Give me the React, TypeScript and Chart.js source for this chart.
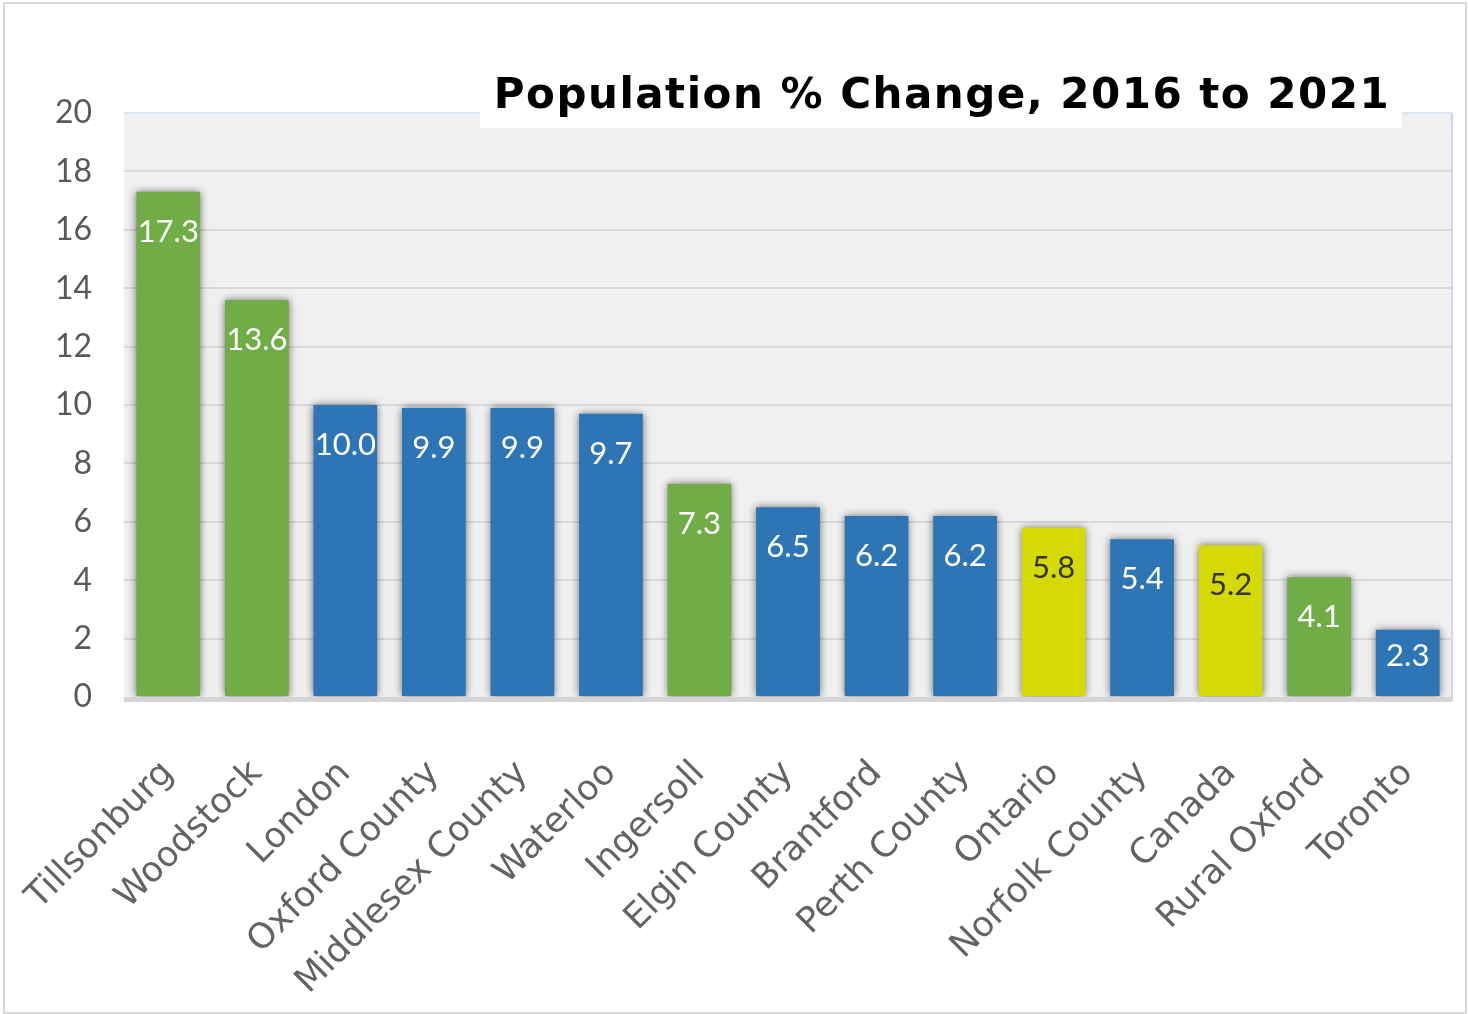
import React, { useEffect, useRef } from "react";
import { Chart, registerables } from "chart.js";

Chart.register(...registerables);

const chartTitle = "Population % Change, 2016 to 2021";
const categories = [
  "Tillsonburg", "Woodstock", "London", "Oxford County", "Middlesex County",
  "Waterloo", "Ingersoll", "Elgin County", "Brantford", "Perth County",
  "Ontario", "Norfolk County", "Canada", "Rural Oxford", "Toronto",
];
const values = [17.3, 13.6, 10.0, 9.9, 9.9, 9.7, 7.3, 6.5, 6.2, 6.2, 5.8, 5.4, 5.2, 4.1, 2.3];
const groups = [
  "oxford", "oxford", "other", "other", "other",
  "other", "oxford", "other", "other", "other",
  "benchmark", "other", "benchmark", "oxford", "other",
];
const yMin = 0;
const yMax = 20;
const yStep = 2;

const groupColor: Record<string, string> = {
  oxford: "#70AD47",
  other: "#2E75B6",
  benchmark: "#D6DA04",
};
const groupLabelColor: Record<string, string> = {
  oxford: "#FFFFFF",
  other: "#FFFFFF",
  benchmark: "#333333",
};

const decorPlugin = {
  id: "decor",
  beforeDraw(chart: any) {
    const { ctx, chartArea } = chart;
    ctx.save();
    ctx.fillStyle = "#FFFFFF";
    ctx.fillRect(0, 0, chart.width, chart.height);
    ctx.strokeStyle = "#D9D9D9";
    ctx.lineWidth = 2;
    ctx.strokeRect(4, 3, chart.width - 6, chart.height - 4);
    ctx.fillStyle = "#F0F0F0";
    ctx.fillRect(chartArea.left, chartArea.top, chartArea.right - chartArea.left, chartArea.bottom - chartArea.top);
    ctx.restore();
  },
  beforeDatasetsDraw(chart: any) {
    const ctx = chart.ctx;
    ctx.save();
    ctx.shadowColor = "rgba(0,0,0,0.55)";
    ctx.shadowBlur = 8;
    ctx.shadowOffsetX = 0;
    ctx.shadowOffsetY = 0;
  },
  afterDatasetsDraw(chart: any) {
    const { ctx, chartArea } = chart;
    ctx.restore();
    ctx.save();
    ctx.fillStyle = "#D4D4D4";
    ctx.fillRect(chartArea.left, chartArea.bottom, chartArea.right - chartArea.left, 5);
    ctx.strokeStyle = "#C9DAEE";
    ctx.lineWidth = 2;
    ctx.beginPath();
    ctx.moveTo(chartArea.right, chartArea.top);
    ctx.lineTo(chartArea.right, chartArea.bottom + 5);
    ctx.stroke();
    ctx.restore();
    const meta = chart.getDatasetMeta(0);
    ctx.save();
    ctx.font = "31px Lato, 'Liberation Sans', sans-serif";
    ctx.textAlign = "center";
    ctx.textBaseline = "middle";
    meta.data.forEach((bar: any, i: number) => {
      const y = Math.min(bar.y + 40, bar.base - 40);
      ctx.fillStyle = groupLabelColor[groups[i]];
      ctx.fillText(values[i].toFixed(1), bar.x, y);
    });
    ctx.restore();
  },
  afterDraw(chart: any) {
    const { ctx, chartArea } = chart;
    ctx.save();
    ctx.fillStyle = "#FFFFFF";
    ctx.fillRect(480, 60, 922, chartArea.top + 15 - 60);
    ctx.fillStyle = "#000000";
    ctx.font = "bold 42px 'DejaVu Sans', sans-serif";
    (ctx as any).letterSpacing = "1.5px";
    ctx.textAlign = "center";
    ctx.textBaseline = "alphabetic";
    ctx.fillText(chartTitle, 942, 108);
    ctx.restore();
  },
};

export default function App() {
  const canvasRef = useRef<HTMLCanvasElement | null>(null);

  useEffect(() => {
    if (!canvasRef.current) return;
    const chart = new Chart(canvasRef.current, {
      type: "bar",
      data: {
        labels: categories,
        datasets: [
          {
            data: values,
            backgroundColor: groups.map((g) => groupColor[g]),
            borderWidth: 0,
            barPercentage: 0.72,
            categoryPercentage: 1,
          },
        ],
      },
      options: {
        animation: false,
        responsive: false,
        maintainAspectRatio: false,
        devicePixelRatio: 1,
        layout: { padding: { top: 113, right: 16, bottom: 0, left: 0 } },
        plugins: {
          legend: { display: false },
          title: { display: false },
          tooltip: { enabled: false },
        },
        scales: {
          x: {
            grid: { display: false },
            border: { display: false },
            ticks: {
              maxRotation: 45,
              minRotation: 45,
              autoSkip: false,
              padding: 48,
              color: "#636363",
              font: { family: "'DejaVu Sans', sans-serif", size: 35 },
            },
            afterFit(scale: any) {
              scale.height = 317;
              scale.paddingLeft = 0;
              scale.paddingRight = 0;
            },
          },
          y: {
            min: yMin,
            max: yMax,
            border: { display: false },
            grid: {
              drawTicks: false,
              lineWidth: 2,
              color: (c: any) => (c.tick && c.tick.value === yMax ? "#DCE6F2" : c.tick && c.tick.value === yMin ? "rgba(0,0,0,0)" : "#D9D9D9"),
            },
            ticks: {
              stepSize: yStep,
              padding: 32,
              color: "#595959",
              font: { family: "Lato, 'Liberation Sans', sans-serif", size: 32 },
            },
            afterFit(scale: any) {
              scale.width = 124;
            },
          },
        },
      },
      plugins: [decorPlugin],
    });
    return () => chart.destroy();
  }, []);

  return (
    <div style={{ position: "absolute", left: 0, top: 0, width: 1468, height: 1014 }}>
      <canvas ref={canvasRef} width={1468} height={1014} style={{ display: "block" }} />
    </div>
  );
}
